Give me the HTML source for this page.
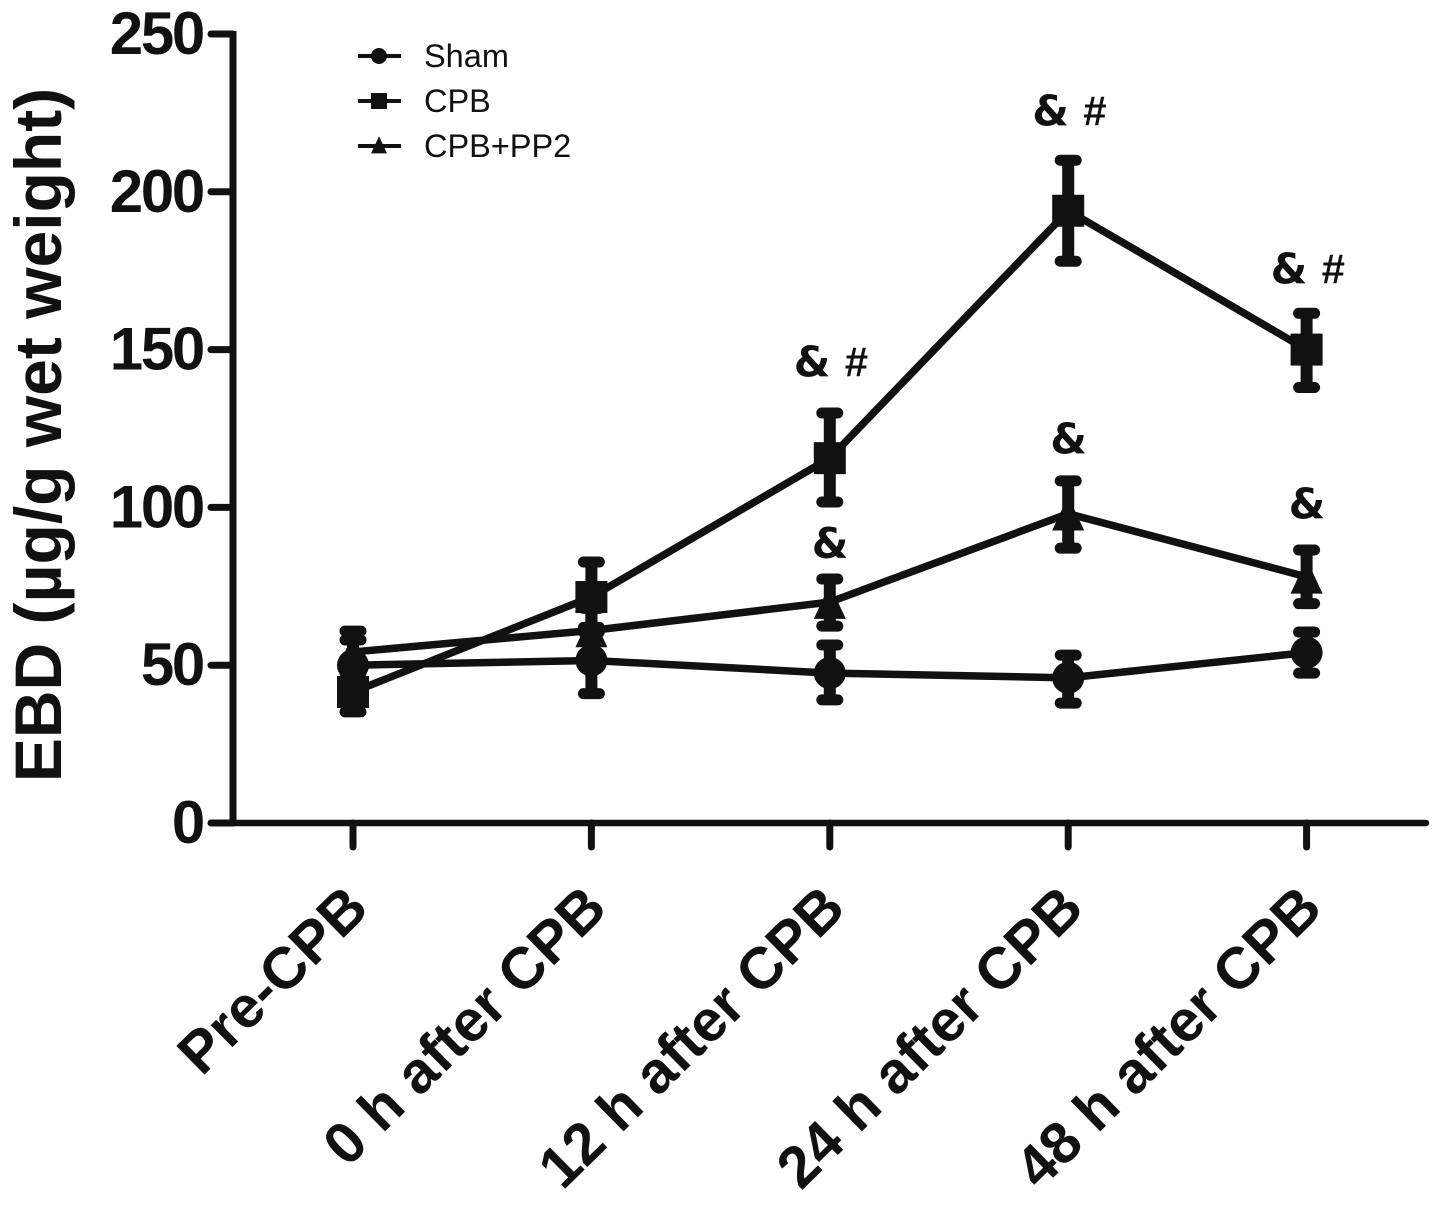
<!DOCTYPE html>
<html lang="en">
<head>
<meta charset="utf-8">
<title>EBD chart</title>
<style>
html,body{margin:0;padding:0;background:#fff;width:1441px;height:1207px;overflow:hidden}
svg{display:block}
text{font-family:"Liberation Sans",Arial,sans-serif;fill:#111}
</style>
</head>
<body>
<svg id="chart" width="1441" height="1207" viewBox="0 0 1441 1207" xmlns="http://www.w3.org/2000/svg"></svg>
<script>
const categories = ['Pre-CPB', '0 h after CPB', '12 h after CPB', '24 h after CPB', '48 h after CPB'];
const yTickLabels = [0, 50, 100, 150, 200, 250];

const shamValues = [50, 51.5, 47.5, 46, 54];
const shamHigh = [58, 62, 56.4, 53.2, 60.5];
const shamLow = [42, 41, 39, 38, 47.5];

const cpbValues = [41.5, 71.6, 115.6, 194, 150];
const cpbHigh = [48, 82.7, 129.9, 210, 161.5];
const cpbLow = [35.2, 60.5, 101.7, 178, 138];

const pp2Values = [54.2, 61, 70, 98, 78];
const pp2High = [60.8, 68, 77.3, 108.4, 86.5];
const pp2Low = [47.5, 53, 62.4, 87.1, 69.5];

const cpbMarks = ['', '', '& #', '& #', '& #'];
const cpbMarkLevels = [0, 0, 141.5, 221, 171];
const pp2Marks = ['', '', '&', '&', '&'];
const pp2MarkLevels = [0, 0, 84, 117, 96.5];

const yAxisTitle = 'EBD (µg/g wet weight)';

const NS = 'http://www.w3.org/2000/svg';
const svg = document.getElementById('chart');
const INK = '#111';
const plot = { left: 233, bottom: 823, top: 34, right: 1426, firstX: 353, stepX: 238.4, max: 250 };

function xScale(i) { return plot.firstX + i * plot.stepX; }
function yScale(v) { return plot.bottom - (v / plot.max) * (plot.bottom - plot.top); }

function make(tag, attrs, parent) {
  const el = document.createElementNS(NS, tag);
  for (const k in attrs) el.setAttribute(k, attrs[k]);
  (parent || svg).appendChild(el);
  return el;
}
function stroke(w, cap) {
  return { stroke: INK, 'stroke-width': w, 'stroke-linecap': cap || 'round', fill: 'none' };
}
function drawMarker(kind, x, y, r, parent) {
  let m;
  if (kind === 'circle') {
    m = make('circle', { cx: x, cy: y, r: r, fill: INK }, parent);
  } else if (kind === 'square') {
    m = make('rect', { x: x - r, y: y - r, width: 2 * r, height: 2 * r, fill: INK }, parent);
  } else {
    m = make('polygon', { points: (x - r) + ',' + (y + r * 1.05) + ' ' + (x + r) + ',' + (y + r * 1.05) + ' ' + x + ',' + (y - r * 1.1), fill: INK }, parent);
  }
  return m;
}

/* axes */
const axes = make('g', {});


const yLine = make('line', Object.assign({ x1: plot.left, y1: plot.top - 3, x2: plot.left, y2: plot.bottom + 3 }, stroke(7, 'butt')), axes);


const xLine = make('line', Object.assign({ x1: plot.left - 3, y1: plot.bottom, x2: plot.right, y2: plot.bottom }, stroke(6.5)), axes);



yTickLabels.forEach(function (v) {
  const y = yScale(v);
  const tick = make('line', Object.assign({ x1: 211, y1: y, x2: plot.left, y2: y }, stroke(7)), axes);
  
  
  const t = make('text', { x: 203, y: y + 20, 'text-anchor': 'end', 'font-size': 60, 'font-weight': 700, 'letter-spacing': -2.3 }, axes);
  t.textContent = v;
  
  
});

categories.forEach(function (c, i) {
  const x = xScale(i);
  const tick = make('line', Object.assign({ x1: x, y1: plot.bottom, x2: x, y2: 847 }, stroke(7)), axes);
  
  
  const lx = x + 18;
  const ly = 911;
  const t = make('text', { x: lx, y: ly, 'text-anchor': 'end', 'font-size': 58.5, 'font-weight': 700, transform: 'rotate(-44.5 ' + lx + ' ' + ly + ')' }, axes);
  t.textContent = c;
  
  
});

const yTitle = make('text', { x: 61, y: 435, 'text-anchor': 'middle', 'font-size': 66, 'font-weight': 700, transform: 'rotate(-90 61 435)' });
yTitle.textContent = yAxisTitle;



/* series */
function drawSeries(name, kind, values, high, low, r) {
  const g = make('g', {});
  
  
  const pts = values.map(function (v, i) { return xScale(i) + ',' + yScale(v); }).join(' ');
  const line = make('polyline', Object.assign({ points: pts }, stroke(7.5, 'butt')), g);
  
  
  values.forEach(function (v, i) {
    const x = xScale(i);
    const stem = make('line', Object.assign({ x1: x, y1: yScale(high[i]), x2: x, y2: yScale(low[i]) }, stroke(12, 'butt')), g);
    
    
    [high[i], low[i]].forEach(function (e) {
      const cap = make('line', Object.assign({ x1: x - 8, y1: yScale(e), x2: x + 8, y2: yScale(e) }, stroke(11)), g);
      
      
    });
    const point = drawMarker(kind, x, yScale(v), r, g);
    
    
  });
}
drawSeries('sham', 'circle', shamValues, shamHigh, shamLow, 16);
drawSeries('cpb', 'square', cpbValues, cpbHigh, cpbLow, 16);
drawSeries('cpb-pp2', 'triangle', pp2Values, pp2High, pp2Low, 16);

/* significance annotations */
function drawMarks(marks, levels, name) {
  marks.forEach(function (m, i) {
    if (!m) return;
    const parts = m.split(' ');
    const x = xScale(i);
    const y = yScale(levels[i]);
    const amp = make('text', { x: parts.length > 1 ? x - 36 : x - 18, y: y, 'font-size': 42, 'font-weight': 700, style: 'font-family:"DejaVu Sans",sans-serif' });
    amp.textContent = parts[0];
    
    
    if (parts.length > 1) {
      const hash = make('text', { x: x + 15, y: y, 'font-size': 42, 'font-weight': 700 });
      hash.textContent = parts[1];
      
      
    }
  });
}
drawMarks(cpbMarks, cpbMarkLevels, 'cpb');
drawMarks(pp2Marks, pp2MarkLevels, 'pp2');

/* legend */
const legendNames = ['Sham', 'CPB', 'CPB+PP2'];
const legendKinds = ['circle', 'square', 'triangle'];
const legend = make('g', {});


legendNames.forEach(function (n, i) {
  const y = 56 + i * 45;
  const entry = make('g', {}, legend);
  
  
  const dash = make('line', Object.assign({ x1: 358, y1: y, x2: 401, y2: y }, stroke(4, 'butt')), entry);
  
  
  const sym = drawMarker(legendKinds[i], 379, y - (legendKinds[i] === 'triangle' ? 1 : 0), 8, entry);
  
  
  const t = make('text', { x: 424, y: y + 11, 'font-size': 32.5 }, entry);
  t.textContent = n;
  
  
});
</script>
</body>
</html>
